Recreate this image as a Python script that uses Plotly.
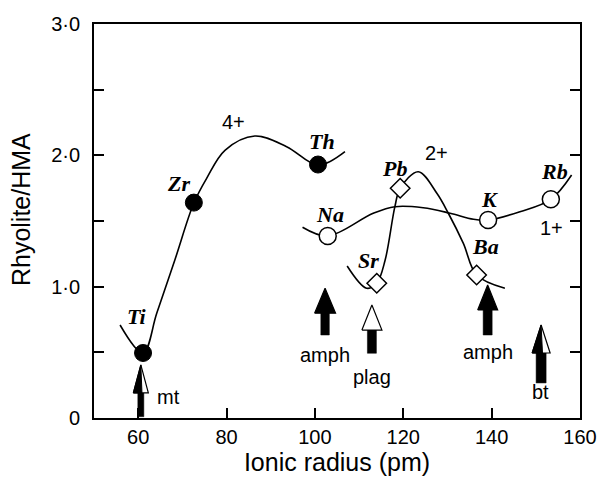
import plotly.graph_objects as go

# ---------------- data ----------------
# 4+ cations (filled circles)
el4 = ["Ti", "Zr", "Th"]
x4 = [61.1, 72.6, 100.7]
y4 = [0.495, 1.64, 1.93]
# 4+ trend curve
c4x = [55.9, 61.1, 64.2, 68.3, 72.6, 75.5, 79.7, 86.4, 93.6, 100.7, 106.8]
c4y = [0.708, 0.495, 0.797, 1.203, 1.637, 1.825, 2.04, 2.147, 2.066, 1.926, 2.028]

# 2+ cations (open diamonds)
el2 = ["Sr", "Pb", "Ba"]
x2 = [114.0, 119.3, 136.6]
y2 = [1.026, 1.749, 1.089]
c2x = [107.3, 111.7, 114.0, 115.9, 118.1, 119.3, 123.4, 127.6, 130.2, 133.6, 136.6, 143.0]
c2y = [1.157, 0.988, 1.026, 1.203, 1.609, 1.749, 1.875, 1.711, 1.559, 1.330, 1.089, 0.988]

# 1+ cations (open circles)
el1 = ["Na", "K", "Rb"]
x1 = [102.9, 139.2, 153.4]
y1 = [1.386, 1.508, 1.665]
c1x = [97.2, 102.9, 113.2, 118.1, 124.5, 130.6, 135.9, 139.2, 146.4, 153.4, 158.1]
c1y = [1.452, 1.386, 1.559, 1.609, 1.601, 1.559, 1.513, 1.508, 1.571, 1.665, 1.850]

# element label positions
lab_text = ["Ti", "Zr", "Th", "Na", "Sr", "Pb", "K", "Ba", "Rb"]
lab_x = [59.7, 69.2, 101.5, 103.4, 112.1, 118.1, 139.5, 138.5, 154.3]
lab_y = [0.771, 1.787, 2.104, 1.546, 1.203, 1.901, 1.660, 1.304, 1.875]

# charge labels
chg_text = ["4+", "2+", "1+"]
chg_x = [81.5, 127.6, 153.6]
chg_y = [2.256, 2.016, 1.444]

# mineral arrows
min_text = ["mt", "amph", "plag", "amph", "bt"]
arr_x = [60.6, 102.3, 112.9, 139.1, 151.2]
arr_tip = [0.404, 0.988, 0.860, 1.013, 0.708]
arr_base = [0.01, 0.632, 0.493, 0.632, 0.267]
arr_head = ["half", "solid", "open", "solid", "half"]
min_x = [66.8, 102.3, 112.9, 139.2, 151.0]
min_y = [0.162, 0.48, 0.314, 0.505, 0.20]

xticks = [60, 80, 100, 120, 140, 160]
yticks = [0, 0.5, 1.0, 1.5, 2.0, 2.5, 3.0]
yticktext = ["0", "", "1·0", "", "2·0", "", "3·0"]

# ---------------- layout constants ----------------
# the page body has an 8 px margin, so the figure is 8 px smaller
W, H = 600, 476
ML, MR, MT, MB = 86, 28, 16, 66
XR = (50, 160)
YR = (0, 3.0)
XPX = (W - ML - MR) / (XR[1] - XR[0])
YPX = (H - MT - MB) / (YR[1] - YR[0])

# arrow sizes in px: head length, head width, shaft width
arr_hl = [28, 25, 25, 25, 28]
arr_hw = [15, 21, 20, 20, 18]
arr_sw = [6, 8.5, 9, 9, 10]

SANS = "Liberation Sans, Arial, Helvetica, sans-serif"
SERIF = "Liberation Serif, Times New Roman, serif"

fig = go.Figure()

# curves
for cx, cy in [(c4x, c4y), (c2x, c2y), (c1x, c1y)]:
    fig.add_trace(go.Scatter(x=cx, y=cy, mode="lines",
                             line=dict(color="black", width=1.6, shape="spline", smoothing=1.0),
                             hoverinfo="skip", showlegend=False))

# arrows
for i in range(len(arr_x)):
    x0 = arr_x[i]
    tip = arr_tip[i]
    hb = tip - arr_hl[i] / YPX
    sw = arr_sw[i] / 2 / XPX
    hw = arr_hw[i] / 2 / XPX
    # shaft
    fig.add_trace(go.Scatter(x=[x0 - sw, x0 + sw, x0 + sw, x0 - sw, x0 - sw],
                             y=[arr_base[i], arr_base[i], hb + 0.005, hb + 0.005, arr_base[i]],
                             mode="lines", fill="toself", fillcolor="black",
                             line=dict(color="black", width=0.5),
                             hoverinfo="skip", showlegend=False))
    style = arr_head[i]
    fillc = "black" if style == "solid" else "white"
    fig.add_trace(go.Scatter(x=[x0 - hw, x0, x0 + hw, x0 - hw],
                             y=[hb, tip, hb, hb],
                             mode="lines", fill="toself", fillcolor=fillc,
                             line=dict(color="black", width=1.2),
                             hoverinfo="skip", showlegend=False))
    if style == "half":
        fig.add_trace(go.Scatter(x=[x0 - hw, x0, x0 + 0.15 * hw, x0 - hw],
                                 y=[hb, tip, hb, hb],
                                 mode="lines", fill="toself", fillcolor="black",
                                 line=dict(color="black", width=1),
                                 hoverinfo="skip", showlegend=False))

# markers
fig.add_trace(go.Scatter(x=x4, y=y4, mode="markers",
                         marker=dict(symbol="circle", size=17, color="black",
                                     line=dict(color="black", width=1)),
                         hoverinfo="skip", showlegend=False))
fig.add_trace(go.Scatter(x=x1, y=y1, mode="markers",
                         marker=dict(symbol="circle", size=17, color="white",
                                     line=dict(color="black", width=1.5)),
                         hoverinfo="skip", showlegend=False))
fig.add_trace(go.Scatter(x=x2, y=y2, mode="markers",
                         marker=dict(symbol="diamond", size=15, color="white",
                                     line=dict(color="black", width=1.5)),
                         hoverinfo="skip", showlegend=False))

ann = []
for t, x, y in zip(lab_text, lab_x, lab_y):
    ann.append(dict(x=x, y=y, xref="x", yref="y", text=f"<b><i>{t}</i></b>",
                    showarrow=False, font=dict(family=SERIF, size=22, color="black")))
for t, x, y in zip(chg_text, chg_x, chg_y):
    ann.append(dict(x=x, y=y, xref="x", yref="y", text=t,
                    showarrow=False, font=dict(family=SANS, size=20, color="black")))
for t, x, y in zip(min_text, min_x, min_y):
    ann.append(dict(x=x, y=y, xref="x", yref="y", text=t,
                    showarrow=False, font=dict(family=SANS, size=20, color="black")))
# y-axis title
ann.append(dict(x=-0.150, y=0.528, xref="paper", yref="paper", text="Rhyolite/HMA",
                textangle=-90, showarrow=False, xanchor="center", yanchor="middle",
                font=dict(family=SANS, size=25, color="black")))

fig.update_layout(
    width=W, height=H,
    margin=dict(l=ML, r=MR, t=MT, b=MB),
    paper_bgcolor="white", plot_bgcolor="white",
    annotations=ann,
    font=dict(family=SANS, color="black"),
    xaxis=dict(range=list(XR), tickvals=xticks, ticks="inside", ticklen=10, tickwidth=1.5,
               tickcolor="black", showline=True, linecolor="black", linewidth=1.8,
               mirror=True, showgrid=False, zeroline=False, automargin=False,
               tickfont=dict(family=SANS, size=20, color="black"),
               title=dict(text="Ionic radius (pm)", font=dict(family=SANS, size=25, color="black"),
                          standoff=6)),
    yaxis=dict(range=list(YR), tickvals=yticks, ticktext=yticktext, ticks="inside", ticklen=10,
               tickwidth=1.5, tickcolor="black", showline=True, linecolor="black", linewidth=1.8,
               mirror="ticks", showgrid=False, zeroline=False, ticklabelstandoff=8,
               automargin=False,
               tickfont=dict(family=SANS, size=20, color="black")),
)

fig.write_html("out.html")
